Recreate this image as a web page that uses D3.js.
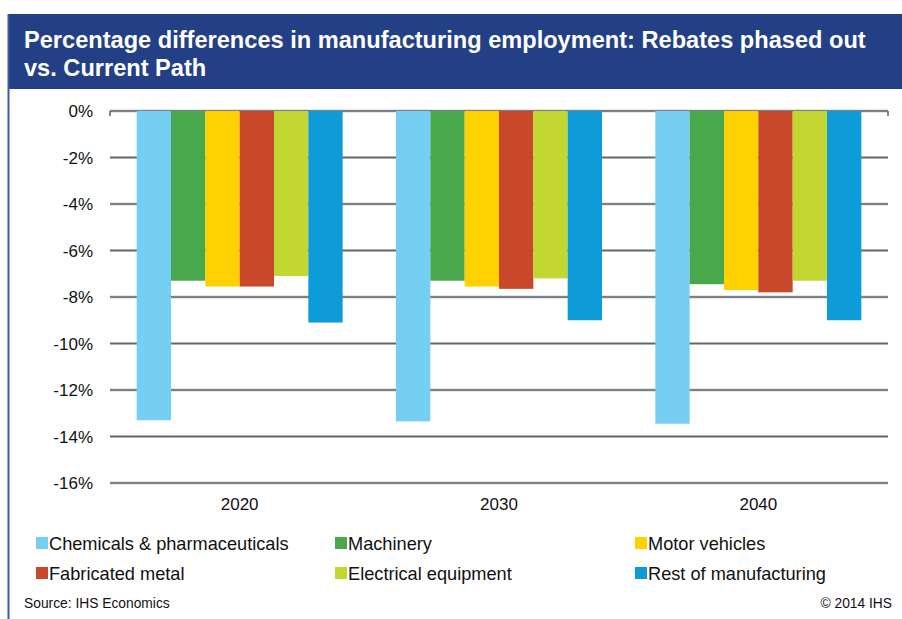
<!DOCTYPE html>
<html>
<head>
<meta charset="utf-8">
<script src="https://cdn.jsdelivr.net/npm/d3@7"></script>
<style>
  html, body { margin: 0; padding: 0; background: #fff; }
  svg { display: block; font-family: "Liberation Sans", Arial, sans-serif; }
</style>
</head>
<body>
<svg id="chart" width="902" height="619"></svg>
<script>
// ---- data ----
const categories = ["2020", "2030", "2040"];
const seriesNames = [
  "Chemicals & pharmaceuticals",
  "Machinery",
  "Motor vehicles",
  "Fabricated metal",
  "Electrical equipment",
  "Rest of manufacturing"
];
const chemicals = [-13.3, -13.35, -13.45];
const machinery = [-7.3, -7.3, -7.45];
const motorVehicles = [-7.55, -7.55, -7.7];
const fabricatedMetal = [-7.55, -7.65, -7.8];
const electrical = [-7.1, -7.2, -7.3];
const restOfManufacturing = [-9.1, -9.0, -9.0];
const tickValues = [0, -2, -4, -6, -8, -10, -12, -14, -16];
const tickLabels = ["0%", "-2%", "-4%", "-6%", "-8%", "-10%", "-12%", "-14%", "-16%"];
const titleLines = [
  "Percentage differences in manufacturing employment: Rebates phased out",
  "vs. Current Path"
];
const sourceText = "Source: IHS Economics";
const copyrightText = "\u00A9 2014 IHS";

const seriesValues = [chemicals, machinery, motorVehicles, fabricatedMetal, electrical, restOfManufacturing];
const colors = ["#74cff3", "#4aa84c", "#ffd100", "#c9472a", "#c3d733", "#0e9cd8"];

const svg = d3.select("#chart");

// ---- frame & title bar ----
svg.append("rect").attr("x", 8).attr("y", 14).attr("width", 894).attr("height", 75).attr("fill", "#233f86");
svg.append("line").attr("x1", 8.5).attr("x2", 8.5).attr("y1", 14).attr("y2", 619)
  .attr("stroke", "#3d5aa8").attr("stroke-width", 2);

const title = svg.append("text").attr("fill", "#ffffff").attr("font-weight", "bold").attr("font-size", 23.6);
titleLines.forEach((t, i) => {
  title.append("tspan").attr("x", 24).attr("y", 48 + i * 28).text(t);
});

// ---- scales ----
const x0 = d3.scaleBand().domain(categories).range([110, 888]).paddingInner(0.2056).paddingOuter(0.1028);
const x1 = d3.scaleBand().domain(d3.range(seriesNames.length)).range([0, x0.bandwidth()]).padding(0);
const y = d3.scaleLinear().domain([-16, 0]).range([483, 111]);

// ---- gridlines ----
const grid = svg.append("g");
grid.selectAll("line.halo").data(tickValues).join("line")
  .attr("x1", 110).attr("x2", 888)
  .attr("y1", d => y(d)).attr("y2", d => y(d))
  .attr("stroke", "#c9cdd2").attr("stroke-width", 3);
grid.selectAll("line.main").data(tickValues).join("line")
  .attr("x1", 110).attr("x2", 888)
  .attr("y1", d => y(d)).attr("y2", d => y(d))
  .attr("stroke", "#5f676e").attr("stroke-width", 1.6);
// end ticks at zero line
[110, 888].forEach(xx => {
  svg.append("line").attr("x1", xx).attr("x2", xx).attr("y1", y(0)).attr("y2", y(0) + 5)
    .attr("stroke", "#5f676e").attr("stroke-width", 1.6);
});

// ---- y axis labels ----
const yAxis = d3.axisLeft(y).tickValues(tickValues).tickSize(0).tickPadding(0)
  .tickFormat((d, i) => tickLabels[i]);
const yg = svg.append("g").attr("transform", "translate(93,0)").call(yAxis);
yg.select(".domain").remove();
yg.selectAll("text").attr("font-size", 17).attr("fill", "#111").attr("font-family", "Liberation Sans, Arial, sans-serif").attr("dy", "0.35em");

// ---- bars ----
const groups = svg.append("g").selectAll("g").data(categories).join("g")
  .attr("transform", d => `translate(${x0(d)},0)`);
groups.selectAll("rect")
  .data((c, ci) => seriesValues.map((vals, si) => ({ si, v: vals[ci] })))
  .join("rect")
  .attr("x", d => x1(d.si))
  .attr("width", x1.bandwidth())
  .attr("y", y(0))
  .attr("height", d => y(d.v) - y(0))
  .attr("fill", d => colors[d.si]);

// ---- x axis labels ----
const xAxis = d3.axisBottom(x0).tickSize(0).tickPadding(0);
const xg = svg.append("g").attr("transform", "translate(0,498)").call(xAxis);
xg.select(".domain").remove();
xg.selectAll("text").attr("font-size", 17).attr("fill", "#111").attr("font-family", "Liberation Sans, Arial, sans-serif").attr("dy", "0.71em");

// ---- legend ----
const legendX = [36, 335, 635];
const legendY = [537, 567];
const legend = svg.append("g");
seriesNames.forEach((name, i) => {
  const col = i % 3, row = Math.floor(i / 3);
  const g = legend.append("g").attr("transform", `translate(${legendX[col]},${legendY[row]})`);
  g.append("rect").attr("width", 12).attr("height", 12).attr("fill", colors[i]);
  g.append("text").attr("x", 13).attr("y", 13).attr("font-size", 18.2).attr("fill", "#111").text(name);
});

// ---- footer ----
svg.append("text").attr("x", 24).attr("y", 608).attr("font-size", 13.8).attr("fill", "#111").text(sourceText);
svg.append("text").attr("x", 892).attr("y", 608).attr("font-size", 13.8).attr("fill", "#111")
  .attr("text-anchor", "end").text(copyrightText);
</script>
</body>
</html>
